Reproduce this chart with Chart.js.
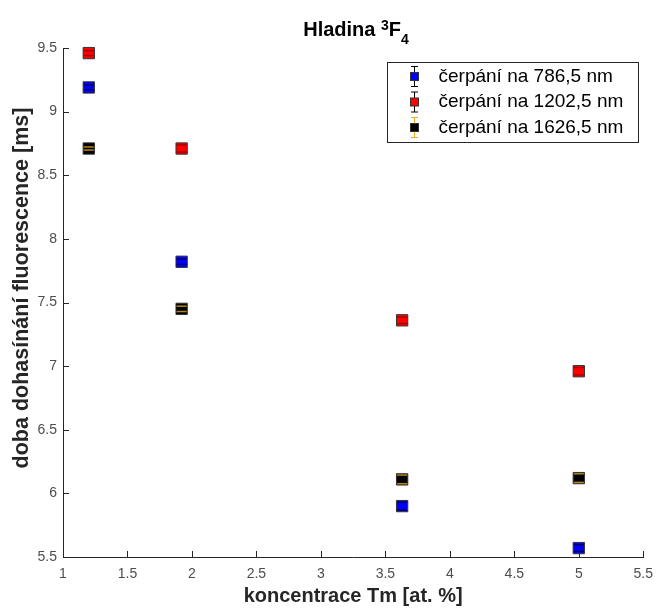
<!DOCTYPE html>
<html>
<head>
<meta charset="utf-8">
<script src="https://cdn.jsdelivr.net/npm/chart.js@4.4.0/dist/chart.umd.min.js"></script>
<style>
  body { margin: 0; background: #fff; }
  #wrap { position: relative; width: 662px; height: 610px; }
  #title {
    position: absolute; left: 63px; width: 586px; top: 18px;
    text-align: center; color: #000; line-height: 22px;
    font: bold 20px "Liberation Sans", Arial, sans-serif;
  }
  #title sup, #title sub { font-size: 14px; line-height: 0; }
  #title sup { vertical-align: 6px; }
  #title sub { vertical-align: -8px; }
</style>
</head>
<body>
<div id="wrap">
  <canvas id="chart" width="662" height="610"></canvas>
  <div id="title">Hladina <sup>3</sup>F<sub>4</sub></div>
</div>
<script>
// koncentrace Tm [at. %]
const concentration = [1.2, 1.92, 3.63, 5.0];

// doba dohasinani [ms] a chyby pro jednotlive cerpaci vlnove delky
const tau786 = [9.19, 7.82, 5.9, 5.57];
const err786 = [0.018, 0.021, 0.031, 0.026];
const tau1202 = [9.46, 8.71, 7.36, 6.96];
const err1202 = [0.02, 0.028, 0.026, 0.029];
const tau1626 = [8.71, 7.45, 6.11, 6.12];
const err1626 = [0.012, 0.021, 0.034, 0.034];

const labels = ["čerpání na 786,5 nm", "čerpání na 1202,5 nm", "čerpání na 1626,5 nm"];
const yTitle = "doba dohasínání fluorescence [ms]";

const FONT = '"Liberation Sans", Arial, sans-serif';

function makeDataset(label, values, errors, color, errColor, capColor) {
  return {
    label: label,
    data: concentration.map((c, i) => ({ x: c, y: values[i] })),
    errors: errors,
    errColor: errColor,
    capColor: capColor,
    pointStyle: "rect",
    pointRadius: 8,
    pointHoverRadius: 8,
    backgroundColor: color,
    borderColor: "#333",
    borderWidth: 1,
    showLine: false,
    clip: false,
  };
}

const datasets = [
  makeDataset(labels[0], tau786, err786, "#0000ff", "#000", "rgba(0,0,0,0.6)"),
  makeDataset(labels[1], tau1202, err1202, "#ff0000", "#000", "rgba(0,0,0,0.35)"),
  makeDataset(labels[2], tau1626, err1626, "#000000", "#EDB120", "rgba(237,177,32,0.75)"),
];

// errorbar: svisla cara pod znackou, krajni carky nad ni
const errorBars = {
  id: "errorBars",
  beforeDatasetsDraw(chart) {
    const { ctx, scales: { x, y } } = chart;
    ctx.save();
    ctx.lineWidth = 1;
    chart.data.datasets.forEach((ds) => {
      ctx.strokeStyle = ds.errColor;
      ds.data.forEach((pt, j) => {
        const px = Math.round(x.getPixelForValue(pt.x)) + 0.5;
        ctx.beginPath();
        ctx.moveTo(px, y.getPixelForValue(pt.y + ds.errors[j]));
        ctx.lineTo(px, y.getPixelForValue(pt.y - ds.errors[j]));
        ctx.stroke();
      });
    });
    ctx.restore();
  },
  afterDatasetsDraw(chart) {
    const { ctx, scales: { x, y } } = chart;
    ctx.save();
    ctx.lineWidth = 1.5;
    chart.data.datasets.forEach((ds) => {
      ctx.strokeStyle = ds.capColor;
      ds.data.forEach((pt, j) => {
        const px = x.getPixelForValue(pt.x);
        [pt.y + ds.errors[j], pt.y - ds.errors[j]].forEach((v) => {
          const py = y.getPixelForValue(v);
          ctx.beginPath();
          ctx.moveTo(px - 5, py);
          ctx.lineTo(px + 5, py);
          ctx.stroke();
        });
      });
    });
    ctx.restore();
  },
};

// ticky dovnitr jako v MATLABu + popisek osy y (v originale je posunuty nahoru)
const innerTicks = {
  id: "innerTicks",
  afterDraw(chart) {
    const { ctx, chartArea, scales: { x, y } } = chart;
    ctx.save();
    ctx.strokeStyle = "#262626";
    ctx.lineWidth = 1;
    ctx.beginPath();
    x.ticks.forEach((t) => {
      const px = Math.round(x.getPixelForValue(t.value)) + 0.5;
      ctx.moveTo(px, chartArea.bottom);
      ctx.lineTo(px, chartArea.bottom - 6);
    });
    y.ticks.forEach((t) => {
      const py = Math.round(y.getPixelForValue(t.value)) + 0.5;
      ctx.moveTo(chartArea.left, py);
      ctx.lineTo(chartArea.left + 6, py);
    });
    ctx.stroke();

    ctx.translate(22, 288);
    ctx.rotate(-Math.PI / 2);
    ctx.font = "bold 21.5px " + FONT;
    ctx.fillStyle = "#262626";
    ctx.textAlign = "center";
    ctx.textBaseline = "middle";
    ctx.fillText(yTitle, 0, 0);
    ctx.restore();
  },
};

// legenda v ramecku vpravo nahore
const boxLegend = {
  id: "boxLegend",
  afterDraw(chart) {
    const ctx = chart.ctx;
    const left = 387.5, top = 62.5, w = 251, h = 80;
    ctx.save();
    ctx.fillStyle = "#fff";
    ctx.fillRect(left, top, w, h);
    ctx.strokeStyle = "#262626";
    ctx.lineWidth = 1;
    ctx.strokeRect(left, top, w, h);
    ctx.font = "19px " + FONT;
    ctx.textBaseline = "middle";
    chart.data.datasets.forEach((ds, i) => {
      const cy = top + 14 + i * 25.5;
      const cx = left + 27;
      ctx.strokeStyle = ds.errColor;
      ctx.beginPath();
      ctx.moveTo(cx, cy - 10);
      ctx.lineTo(cx, cy + 10);
      ctx.moveTo(cx - 3.5, cy - 10);
      ctx.lineTo(cx + 3.5, cy - 10);
      ctx.moveTo(cx - 3.5, cy + 10);
      ctx.lineTo(cx + 3.5, cy + 10);
      ctx.stroke();
      ctx.fillStyle = ds.backgroundColor;
      ctx.fillRect(cx - 4, cy - 4, 8, 8);
      ctx.strokeStyle = "#333";
      ctx.strokeRect(cx - 4, cy - 4, 8, 8);
      ctx.fillStyle = "#000";
      ctx.fillText(ds.label, left + 51, cy);
    });
    ctx.restore();
  },
};

new Chart(document.getElementById("chart"), {
  type: "scatter",
  data: { datasets: datasets },
  options: {
    responsive: false,
    animation: false,
    layout: { padding: { top: 48, right: 13, left: 0, bottom: 0 } },
    plugins: {
      legend: { display: false },
      title: { display: false },
      tooltip: { enabled: false },
    },
    scales: {
      x: {
        type: "linear",
        min: 1,
        max: 5.5,
        grid: { display: false, drawTicks: false },
        border: { display: true, color: "#262626", width: 1 },
        ticks: {
          stepSize: 0.5,
          padding: 9,
          color: "#4d4d4d",
          font: { family: FONT, size: 14 },
          callback: (v) => String(v),
        },
        title: {
          display: true,
          text: "koncentrace Tm [at. %]",
          color: "#262626",
          font: { family: FONT, size: 20, weight: "bold" },
          padding: { top: 0, bottom: 2 },
        },
        afterFit: (scale) => { scale.height = 53; },
      },
      y: {
        type: "linear",
        min: 5.5,
        max: 9.5,
        grid: { display: false, drawTicks: false },
        border: { display: true, color: "#262626", width: 1 },
        ticks: {
          stepSize: 0.5,
          padding: 6,
          color: "#4d4d4d",
          font: { family: FONT, size: 14 },
          callback: (v) => String(v),
        },
        afterFit: (scale) => { scale.width = 63; },
      },
    },
  },
  plugins: [errorBars, innerTicks, boxLegend],
});
</script>
</body>
</html>
